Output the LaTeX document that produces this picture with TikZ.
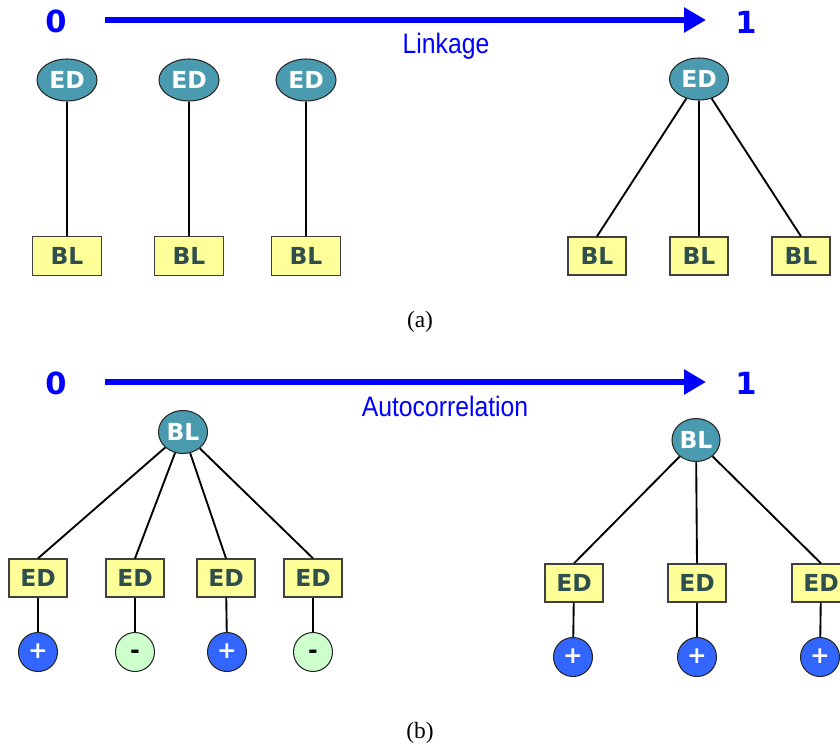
\documentclass[tikz,border=0pt]{standalone}
\usepackage{fontspec}
\setmainfont{Liberation Serif}
\setsansfont{DejaVu Sans}
\newfontfamily\axisfont[FakeStretch=0.88]{Liberation Sans}
\usepackage{tikz}
\usetikzlibrary{arrows.meta,shapes.geometric}

\definecolor{tealnode}{RGB}{74,155,175}
\definecolor{boxyellow}{RGB}{255,255,153}
\definecolor{boxtext}{RGB}{47,79,79}
\definecolor{plusblue}{RGB}{51,102,255}
\definecolor{minusgreen}{RGB}{204,255,204}
\definecolor{axisblue}{RGB}{0,0,255}

\begin{document}
\begin{tikzpicture}[
    x=0.03cm, y=-0.03cm,
    oval/.style={draw=black!85, line width=0.9pt, ellipse, fill=tealnode, text=white, inner sep=0pt, minimum width=1.8cm, minimum height=1.26cm, font=\sffamily\bfseries\fontsize{20}{22}\selectfont},
    box/.style={draw=black!75, line width=1.1pt, fill=boxyellow, text=boxtext, inner sep=0pt, minimum width=1.74cm, minimum height=1.14cm, font=\sffamily\bfseries\fontsize{20}{22}\selectfont},
    wide/.style={minimum width=2.07cm, minimum height=1.17cm},
    plus/.style={draw=black!85, line width=0.9pt, circle, fill=plusblue, text=white, inner sep=0pt, minimum size=1.17cm, text height=1.1em, text depth=0pt, font=\sffamily\bfseries\fontsize{20}{22}\selectfont},
    minus/.style={plus, fill=minusgreen, text=black},
    tick/.style={text=axisblue, font=\sffamily\bfseries\fontsize{26}{28}\selectfont},
    caption/.style={text=axisblue, font=\axisfont\fontsize{24}{26}\selectfont},
    axis/.style={-{Triangle[length=0.66cm, width=0.72cm]}, draw=axisblue, line width=5pt},
    link/.style={line width=1.6pt}
]
\useasboundingbox (0,0) rectangle (840,744);

% (a) linkage
\node[tick] (zeroA) at (56,21) {0};
\node[tick] (oneA) at (746,22) {1};
\coordinate (startA) at (105,20);
\coordinate (endA) at (706,20);
\draw[axis] (startA) -- (endA);
\node[caption] (linkage) at (446,46) {Linkage};

\node[oval] (ed1) at (67,80) {ED};
\node[oval] (ed2) at (189,80) {ED};
\node[oval] (ed3) at (306,80) {ED};
\node[box, wide] (bl1) at (67,256) {BL};
\node[box, wide] (bl2) at (189,256) {BL};
\node[box, wide] (bl3) at (306,256) {BL};

\node[oval, minimum width=1.77cm] (ed4) at (699,79) {ED};
\node[box] (bl4) at (597,256) {BL};
\node[box] (bl5) at (699,256) {BL};
\node[box] (bl6) at (801,256) {BL};

\draw[link] (ed1) -- (bl1);
\draw[link] (ed2) -- (bl2);
\draw[link] (ed3) -- (bl3);
\draw[link] (ed4) -- (bl4.north);
\draw[link] (ed4) -- (bl5.north);
\draw[link] (ed4) -- (bl6.north);

\node (capA) at (420,322) {\fontsize{20}{22}\selectfont(a)};

% (b) autocorrelation
\node[tick] (zeroB) at (56,383) {0};
\node[tick] (oneB) at (746,383) {1};
\coordinate (startB) at (105,382);
\coordinate (endB) at (706,382);
\draw[axis] (startB) -- (endB);
\node[caption] (autocorr) at (445,406) {Autocorrelation};

\node[oval, minimum width=1.47cm, minimum height=1.29cm] (blL) at (183,432) {BL};
\node[box] (e1) at (38,578) {ED};
\node[box] (e2) at (135,578) {ED};
\node[box] (e3) at (226,578) {ED};
\node[box] (e4) at (313,578) {ED};
\node[plus] (c1) at (38,652) {+};
\node[minus] (c2) at (135,652) {-};
\node[plus] (c3) at (227,652) {+};
\node[minus] (c4) at (313,652) {-};

\node[oval, minimum width=1.44cm, minimum height=1.29cm] (blR) at (696,440) {BL};
\node[box] (e5) at (574,583) {ED};
\node[box] (e6) at (697,583) {ED};
\node[box] (e7) at (821,583) {ED};
\node[plus] (c5) at (573,657) {+};
\node[plus] (c6) at (697,657) {+};
\node[plus] (c7) at (820,657) {+};

\draw[link] (blL) -- (e1.north);
\draw[link] (blL) -- (e2.north);
\draw[link] (blL) -- (e3.north);
\draw[link] (blL) -- (e4.north);
\draw[link] (blR) -- (e5.north);
\draw[link] (blR) -- (e6.north);
\draw[link] (blR) -- (e7.north);
\draw[link] (e1) -- (c1);
\draw[link] (e2) -- (c2);
\draw[link] (e3) -- (c3);
\draw[link] (e4) -- (c4);
\draw[link] (e5) -- (c5);
\draw[link] (e6) -- (c6);
\draw[link] (e7) -- (c7);

\node (capB) at (420,733) {\fontsize{20}{22}\selectfont(b)};
\end{tikzpicture}
\end{document}
